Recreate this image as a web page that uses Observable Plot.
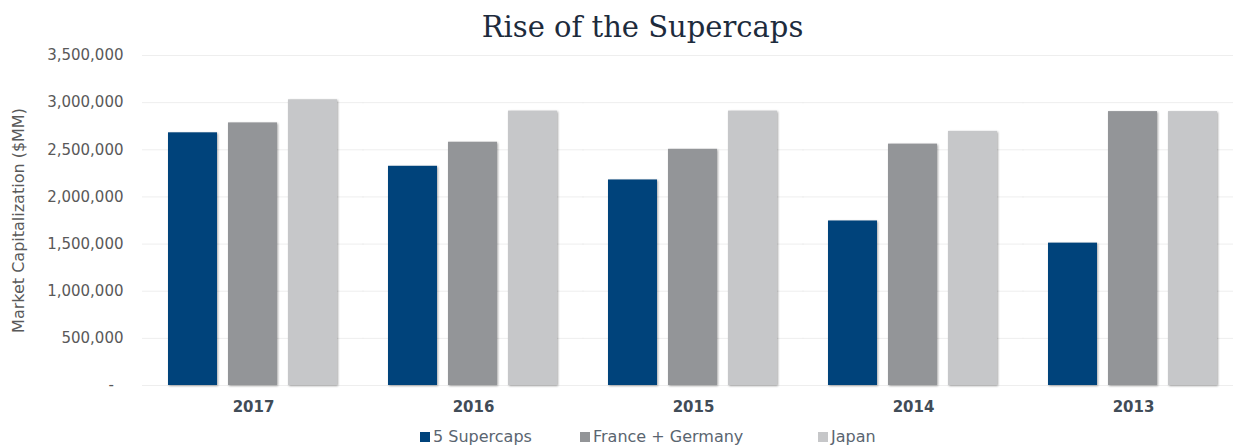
<!DOCTYPE html>
<html>
<head>
<meta charset="utf-8">
<script src="https://cdn.jsdelivr.net/npm/d3@7"></script>
<script src="https://cdn.jsdelivr.net/npm/@observablehq/plot@0.6"></script>
<style>
  html, body { margin: 0; padding: 0; background: #fff; }
  #wrap { position: relative; width: 1233px; height: 448px; overflow: hidden; }
  #title { height: 45px; padding-top: 3px; padding-left: 52px; line-height: 48px; text-align: center; font-family: "DejaVu Serif", serif; font-size: 29px; color: #1d2b3c; }
  #legend { position: relative; height: 22px; font-family: "DejaVu Sans", sans-serif; font-size: 16px; color: #5a6570; }
  #legend .item { position: absolute; top: 0; line-height: 22px; white-space: nowrap; }
  #legend .sw { display: inline-block; width: 10px; height: 10px; margin-right: 3px; }
  g[aria-label^="fx-axis"] text { font-weight: bold; fill: #414c57; font-size: 15px; }
  g[aria-label="y-axis label"] text, g[aria-label="y-axis"] > text, g[aria-label="y-axis"] .label { font-size: 16px; }
  g[aria-label="bar"] rect { filter: drop-shadow(1px 1px 1.2px rgba(0,0,0,0.35)); }
</style>
</head>
<body>
<div id="wrap">
  <div id="title">Rise of the Supercaps</div>
  <div id="chart"></div>
  <div id="legend"></div>
</div>
<script>
const years = ["2017", "2016", "2015", "2014", "2013"];
const series = ["5 Supercaps", "France + Germany", "Japan"];
const supercaps = [2680000, 2325000, 2180000, 1745000, 1510000];
const franceGermany = [2785000, 2580000, 2505000, 2560000, 2905000];
const japan = [3030000, 2910000, 2910000, 2695000, 2905000];
const colors = ["#00437b", "#939598", "#c6c7c9"];
const yTicks = [0, 500000, 1000000, 1500000, 2000000, 2500000, 3000000, 3500000];

const seriesValues = [supercaps, franceGermany, japan];
const rows = years.flatMap((yr, i) => series.map((s, j) => ({year: yr, series: s, value: seriesValues[j][i]})));

const chart = Plot.plot({
  width: 1233,
  height: 378,
  marginTop: 7,
  marginBottom: 41,
  marginLeft: 142,
  marginRight: -11,
  style: {fontFamily: "DejaVu Sans, sans-serif", fontSize: "15px", color: "#595959", background: "transparent", overflow: "visible"},
  facet: {data: rows, x: "year"},
  fx: {domain: years, paddingInner: 0.218, paddingOuter: 0.109, axis: "bottom", tickSize: 0, tickPadding: 16, label: null},
  x: {domain: series, paddingInner: 0.18, paddingOuter: 0, axis: null},
  y: {domain: [0, 3500000], ticks: yTicks, tickSize: 0, tickPadding: 44,
      tickFormat: d => d === 0 ? "-\u00a0\u00a0" : d3.format(",")(d),
      label: "Market Capitalization ($MM)", labelArrow: "none", labelAnchor: "center", labelOffset: 155},
  color: {domain: series, range: colors},
  marks: [
    Plot.ruleY(yTicks, {stroke: "#eeeeee", insetLeft: -25, insetRight: -25}),
    Plot.barY(rows, {x: "series", y: "value", fill: "series"})
  ]
});
document.getElementById("chart").appendChild(chart);

const legendPos = [420, 580, 818];
const legend = document.getElementById("legend");
series.forEach((s, i) => {
  const it = document.createElement("div");
  it.className = "item";
  it.style.left = legendPos[i] + "px";
  const sw = document.createElement("span");
  sw.className = "sw";
  sw.style.background = colors[i];
  it.appendChild(sw);
  it.appendChild(document.createTextNode(s));
  legend.appendChild(it);
});
</script>
</body>
</html>
